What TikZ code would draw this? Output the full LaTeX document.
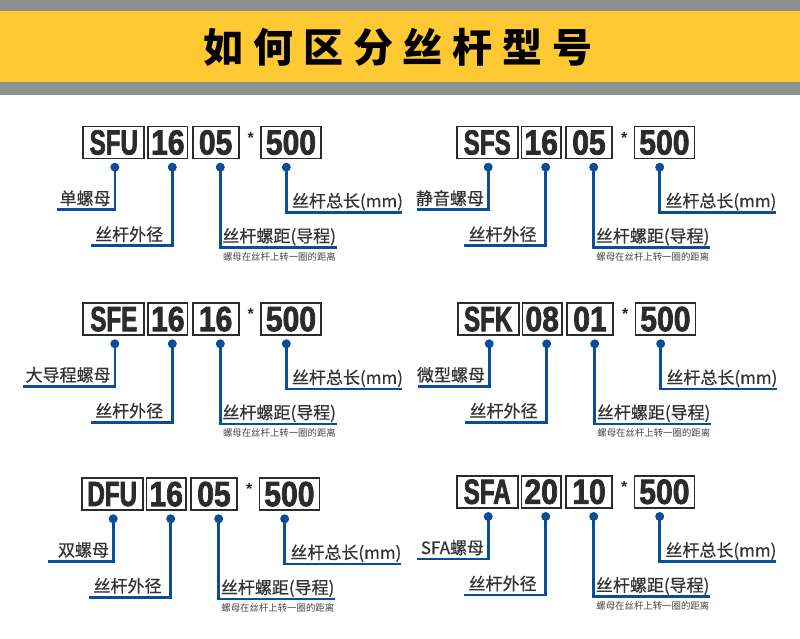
\documentclass[tikz,border=0pt]{standalone}
\usepackage{fontspec}
\newfontfamily\cjk{Noto Sans CJK SC}
\newfontfamily\cjklbl{Noto Sans CJK SC}[FakeBold=0.5]
\newfontfamily\codefnt{Liberation Sans}[FakeStretch=0.69,FakeBold=2]
\newfontfamily\numfnt{Liberation Sans}[FakeStretch=0.86,FakeBold=2]
\newfontfamily\starfnt{Liberation Sans}
\definecolor{yelband}{HTML}{FFC933}
\definecolor{grayband}{HTML}{8C9191}
\definecolor{bl}{HTML}{0A4E9B}
\definecolor{ink}{HTML}{2B2B2B}
\definecolor{lblc}{HTML}{333333}
\definecolor{subc}{HTML}{444444}
\tikzset{
  codebox/.style={draw=ink, line width=1.8pt, fill=white, minimum height=32pt, inner sep=0pt, text=ink},
  letters/.style={codebox, font=\codefnt\bfseries\fontsize{35}{35}\selectfont},
  digits/.style={codebox, font=\numfnt\bfseries\fontsize{35}{35}\selectfont},
  dotmark/.style={circle, fill=bl, inner sep=0pt, minimum size=9pt},
  conn/.style={draw=bl, line width=2.6pt},
  lbl/.style={font=\cjklbl\fontsize{17}{17}\selectfont, text=lblc, inner sep=0pt},
  subtxt/.style={font=\cjk\fontsize{9.4}{9.4}\selectfont, text=subc, inner sep=0pt},
  astx/.style={font=\starfnt\bfseries\fontsize{16}{16}\selectfont, text=ink, inner sep=0pt}
}
\newcommand\screwpanel[8]{%
\begin{scope}[shift={(#2,#3)}]
  \node[letters, minimum width=61pt] (#1A) at (31.5,16.8) {#4};
  \node[digits, minimum width=39.5pt] (#1B) at (85.5,16.8) {#5};
  \node[digits, minimum width=46pt] (#1C) at (133.3,16.8) {#6};
  \node[astx] (#1S) at (168.5,12) {*};
  \node[digits, minimum width=60pt] (#1D) at (208.7,16.8) {500};
  \coordinate (#1a) at (32.5,41.5);
  \coordinate (#1b) at (90,41.5);
  \coordinate (#1c) at (138,41.5);
  \coordinate (#1d) at (204,41.5);
  \coordinate (#1ea) at (#8,84);
  \coordinate (#1eb) at (8.7,120);
  \coordinate (#1ec) at (254.5,121.5);
  \coordinate (#1ed) at (320,86.5);
  \draw[conn] (#1a) |- (#1ea);
  \draw[conn] (#1b) |- (#1eb);
  \draw[conn] (#1c) |- (#1ec);
  \draw[conn] (#1d) |- (#1ed);
  \node[dotmark] (#1da) at (#1a) {};
  \node[dotmark] (#1db) at (#1b) {};
  \node[dotmark] (#1dc) at (#1c) {};
  \node[dotmark] (#1dd) at (#1d) {};
  \node[lbl, anchor=base east] (#1la) at (28.5,79) {#7};
  \node[lbl, anchor=base west] (#1lb) at (12.7,115) {丝杆外径};
  \node[lbl, anchor=base west] (#1lc) at (140,116.5) {丝杆螺距(导程)};
  \node[lbl, anchor=base west] (#1ld) at (209.5,81.5) {丝杆总长(mm)};
  \node[subtxt, anchor=west] (#1sub) at (140.5,131) {螺母在丝杆上转一圈的距离};
\end{scope}}
\begin{document}
\begin{tikzpicture}[x=1pt,y=-1pt]
\useasboundingbox (0,0) rectangle (800,639);
\fill[white] (0,0) rectangle (800,639);
\fill[grayband] (0,0) rectangle (800,95);
\fill[yelband] (0,11) rectangle (800,82);
\node[font=\cjk\bfseries\fontsize{40}{40}\selectfont, text=black, inner sep=0pt] (title) at (398,47)
  {\makebox[49.75pt]{如}\makebox[49.75pt]{何}\makebox[49.75pt]{区}\makebox[49.75pt]{分}\makebox[49.75pt]{丝}\makebox[49.75pt]{杆}\makebox[49.75pt]{型}\makebox[49.75pt]{号}};
\screwpanel{p1}{82.3}{125.7}{SFU}{16}{05}{单螺母}{-25.6}
\screwpanel{p2}{455.7}{125.7}{SFS}{16}{05}{静音螺母}{-38.4}
\screwpanel{p3}{82.3}{302.3}{SFE}{16}{16}{大导程螺母}{-59}
\screwpanel{p4}{456.7}{302.3}{SFK}{08}{01}{微型螺母}{-38.4}
\screwpanel{p5}{80.7}{477.3}{DFU}{16}{05}{双螺母}{-32.4}
\screwpanel{p6}{455.7}{475}{SFA}{20}{10}{SFA螺母}{-38.4}
\end{tikzpicture}
\end{document}
